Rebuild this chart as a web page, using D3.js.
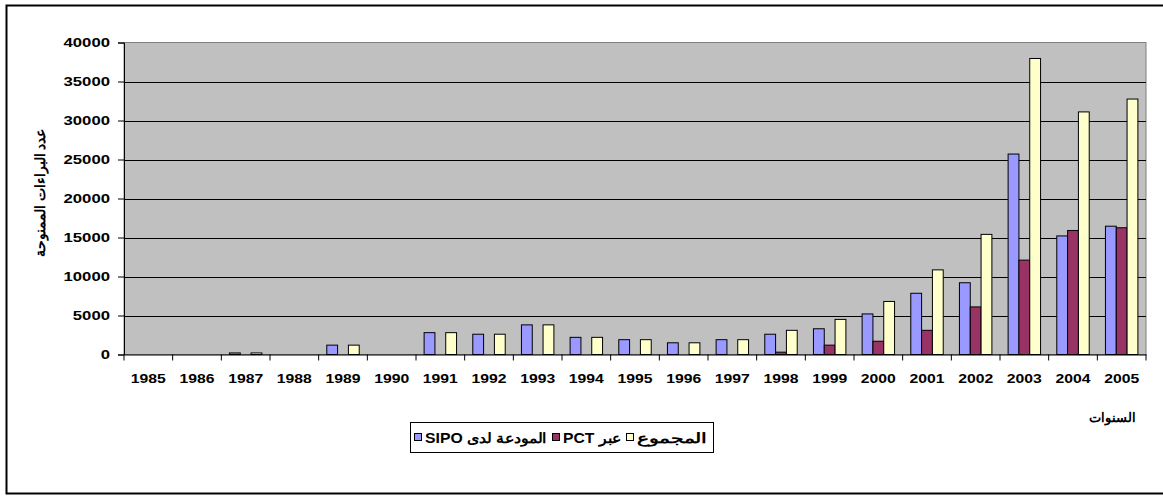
<!DOCTYPE html>
<html>
<head>
<meta charset="utf-8">
<script src="https://cdn.jsdelivr.net/npm/d3@7/dist/d3.min.js"></script>
<style>
  html, body { margin: 0; padding: 0; background: #fff; }
  svg { display: block; }
  text { font-family: "Liberation Sans", Arial, sans-serif; font-weight: bold; fill: #000; }
</style>
</head>
<body>
<svg id="chart" width="1163" height="496"></svg>
<script>
// ---- data ----
const years = ["1985","1986","1987","1988","1989","1990","1991","1992","1993","1994","1995",
               "1996","1997","1998","1999","2000","2001","2002","2003","2004","2005"];
const seriesNames = ["المودعة لدى SIPO", "عبر PCT", "المجموع"];
const sipo  = [0, 0, 200, 0, 1200, 0, 2800, 2600, 3800, 2200, 1900, 1500, 1900, 2600, 3300, 5200, 7850, 9200, 25700, 15200, 16450];
const pct   = [0, 0, 0, 0, 0, 0, 0, 0, 0, 0, 0, 0, 0, 300, 1200, 1700, 3100, 6100, 12100, 15900, 16250];
const total = [0, 0, 200, 0, 1200, 0, 2800, 2600, 3800, 2200, 1900, 1500, 1900, 3100, 4500, 6800, 10850, 15400, 37950, 31100, 32750];
const yTicks = [0, 5000, 10000, 15000, 20000, 25000, 30000, 35000, 40000];
const yTitle = "عدد البراءات الممنوحة";
const xTitle = "السنوات";
const colors = ["#9999FF", "#993366", "#FFFFCC"];

const seriesValues = [sipo, pct, total];

const svg = d3.select("#chart");
const plot = { left: 124, right: 1146, top: 42.5, bottom: 354.5 };

// outer frame
svg.append("rect")
  .attr("x", 6.5).attr("y", 5.5)
  .attr("width", 1170).attr("height", 488)
  .attr("fill", "none").attr("stroke", "#000").attr("stroke-width", 2);

const x0 = d3.scaleBand().domain(years).range([plot.left, plot.right]).paddingInner(0).paddingOuter(0);
const x1 = d3.scaleBand().domain(d3.range(3)).range([0, x0.bandwidth()]).paddingInner(0).paddingOuter(0.75);
const y = d3.scaleLinear().domain([0, 40000]).range([plot.bottom, plot.top]);

// plot background
svg.append("rect")
  .attr("x", plot.left).attr("y", plot.top)
  .attr("width", plot.right - plot.left).attr("height", plot.bottom - plot.top)
  .attr("fill", "#C0C0C0").attr("stroke", "#808080").attr("stroke-width", 1);

// gridlines
svg.append("g").selectAll("line")
  .data(yTicks.filter(t => t > 0 && t < 40000))
  .join("line")
  .attr("x1", plot.left).attr("x2", plot.right)
  .attr("y1", d => Math.round(y(d)) + 0.5).attr("y2", d => Math.round(y(d)) + 0.5)
  .attr("stroke", "#000").attr("stroke-width", 1);

// bars
const bars = [];
years.forEach((yr, i) => {
  seriesValues.forEach((vals, s) => {
    if (vals[i] > 0) bars.push({ year: yr, s: s, v: vals[i] });
  });
});
svg.append("g").selectAll("rect")
  .data(bars)
  .join("rect")
  .attr("x", d => x0(d.year) + x1(d.s))
  .attr("width", x1.bandwidth())
  .attr("y", d => y(d.v))
  .attr("height", d => y(0) - y(d.v))
  .attr("fill", d => colors[d.s])
  .attr("stroke", "#000").attr("stroke-width", 1);

// y axis
const yAxis = d3.axisLeft(y).tickValues(yTicks).tickSize(6).tickPadding(8).tickFormat(d3.format("d"));
const gy = svg.append("g").attr("transform", `translate(${plot.left},0)`).call(yAxis);
gy.select(".domain").attr("stroke", "#000");
gy.selectAll(".tick line").attr("stroke", "#000");
gy.selectAll(".tick text")
  .attr("font-size", 13.5)
  .attr("font-family", "Liberation Sans, Arial, sans-serif")
  .attr("font-weight", "bold")
  .attr("textLength", d => String(d).length * 9.3)
  .attr("lengthAdjust", "spacingAndGlyphs");

// x axis
const xAxis = d3.axisBottom(x0).tickSize(0).tickPadding(19);
const gx = svg.append("g").attr("transform", `translate(0,${plot.bottom})`).call(xAxis);
gx.select(".domain").attr("stroke", "#000");
gx.selectAll(".tick text")
  .attr("font-size", 13.5)
  .attr("font-family", "Liberation Sans, Arial, sans-serif")
  .attr("font-weight", "bold")
  .attr("textLength", 35)
  .attr("lengthAdjust", "spacingAndGlyphs");
// category boundary ticks
gx.append("g").selectAll("line")
  .data(d3.range(years.length + 1))
  .join("line")
  .attr("x1", i => plot.left + i * x0.step()).attr("x2", i => plot.left + i * x0.step())
  .attr("y1", 0).attr("y2", 6)
  .attr("stroke", "#000");

// axis titles
svg.append("text")
  .attr("transform", "translate(45,193) rotate(-90)")
  .attr("text-anchor", "middle")
  .attr("direction", "rtl")
  .attr("font-size", 13.5)
  .text(yTitle);

svg.append("text")
  .attr("x", 1112).attr("y", 422)
  .attr("text-anchor", "middle")
  .attr("direction", "rtl")
  .attr("font-size", 13)
  .text(xTitle);

// legend
const leg = svg.append("g");
leg.append("rect")
  .attr("x", 410.5).attr("y", 422.5).attr("width", 303).attr("height", 30)
  .attr("fill", "#fff").attr("stroke", "#000").attr("stroke-width", 1);
const legLabelWidths = [122, 58, 70];
let lx = 414;
const ly = 438;
seriesNames.forEach((name, s) => {
  leg.append("rect")
    .attr("x", lx + 0.5).attr("y", ly - 4.5).attr("width", 7).attr("height", 7)
    .attr("fill", colors[s]).attr("stroke", "#000");
  lx += 11;
  const w = legLabelWidths[s];
  leg.append("text")
    .attr("x", lx + w / 2)
    .attr("y", ly + 5)
    .attr("font-size", 14)
    .attr("direction", "rtl")
    .attr("text-anchor", "middle")
    .attr("textLength", w)
    .attr("lengthAdjust", "spacingAndGlyphs")
    .text(name);
  lx += w + 5;
});
</script>
</body>
</html>
